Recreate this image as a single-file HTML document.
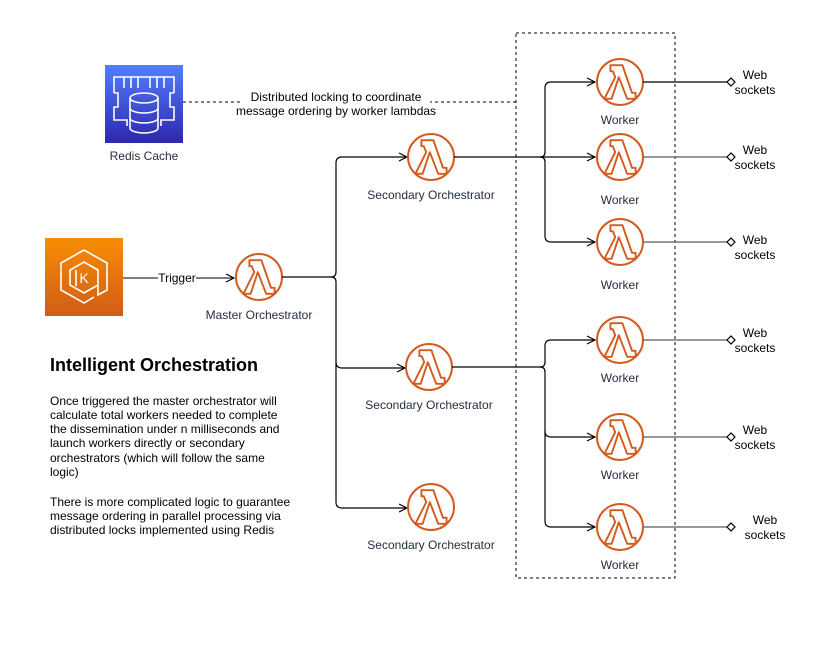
<!DOCTYPE html>
<html><head><meta charset="utf-8"><style>
html,body{margin:0;padding:0;background:#fff;}
svg{display:block;font-family:"Liberation Sans",Arial,sans-serif;}
.lbl{font-size:12px;fill:#232F3E;text-anchor:middle;}
.t{font-size:12px;fill:#000;}
</style></head><body>
<svg width="822" height="647" viewBox="0 0 822 647" xmlns="http://www.w3.org/2000/svg">
<defs>
<linearGradient id="rg" x1="0" y1="1" x2="0" y2="0"><stop offset="0" stop-color="#2E27AD"/><stop offset="1" stop-color="#527FFF"/></linearGradient>
<linearGradient id="kg" x1="0" y1="1" x2="0" y2="0"><stop offset="0" stop-color="#D05C17"/><stop offset="1" stop-color="#F78E04"/></linearGradient>
<g id="lam">
<circle r="23" fill="#fff" stroke="#D45B1F" stroke-width="2"/>
<path transform="scale(1.2)" d="M-8,-14 L2,-14 L10,9 L13,9 L13,14 L6,14 L-1,-4 L-7,14 L-13,14 L-4,-4 L-6,-9 L-8,-9 Z" fill="none" stroke="#D45B1F" stroke-width="1.6" stroke-linejoin="round"/>
</g>
<marker id="ar" markerWidth="10" markerHeight="10" refX="9" refY="5" orient="auto" markerUnits="userSpaceOnUse"><path d="M1,1 L9,5 L1,9" fill="none" stroke="#000" stroke-width="1.2"/></marker>
</defs>

<rect x="516" y="33" width="159" height="545" fill="none" stroke="#000" stroke-dasharray="3,3"/>

<!-- Redis -->
<rect x="105" y="65" width="78" height="78" fill="url(#rg)"/>
<g fill="none" stroke="#fff" stroke-width="1.6">
<path d="M114,93 V77 H174 V93 M114,93 H118 V107 H114 V120 H127 V126 M174,93 H170 V107 H174 V120 H161 V126"/>
<path d="M124,77 V88 M131,77 V88 M138,77 V88 M150,77 V88 M157,77 V88 M164,77 V88"/>
<ellipse cx="144" cy="98" rx="14" ry="5"/>
<path d="M130,98 V128 A14,5 0 0 0 158,128 V98 M130,108 A14,5 0 0 0 158,108 M130,118 A14,5 0 0 0 158,118"/>
</g>
<text class="lbl" x="144" y="160">Redis Cache</text>

<line x1="183" y1="102" x2="516" y2="102" stroke="#000" stroke-dasharray="3,3"/>
<rect x="240" y="89" width="190" height="30" fill="#fff"/>
<text class="t" x="336" y="101" text-anchor="middle" font-size="11">Distributed locking to coordinate</text>
<text class="t" x="336" y="115" text-anchor="middle" font-size="11">message ordering by worker lambdas</text>

<!-- Kubernetes -->
<rect x="45" y="238" width="78" height="78" fill="url(#kg)"/>
<g fill="none" stroke="#fff" stroke-width="1.6">
<path d="M84,250 L107,263 L107,290 L98,295 L98,285 L84,293 L70,285 L70,270 L84,262 L98,270 L98,285"/>
<path d="M84,250 L61,263 L61,290 L84,303 L94,297"/>
<path d="M76,270 V286"/>
</g>
<text x="84" y="283" fill="#fff" font-size="14" text-anchor="middle">K</text>

<line x1="123" y1="278" x2="234" y2="278" stroke="#000" marker-end="url(#ar)"/>
<rect x="158" y="271" width="38" height="14" fill="#fff"/>
<text class="t" x="177" y="282" text-anchor="middle" font-size="11">Trigger</text>

<use href="#lam" x="259" y="277"/>
<text class="lbl" x="259" y="319">Master Orchestrator</text>

<g fill="none" stroke="#000" stroke-width="1.2">
<path d="M282,277 H331 Q336,277 336,272 V163 Q336,157 342,157 H407" marker-end="url(#ar)"/>
<path d="M331,277 Q336,277 336,282 V362 Q336,368 342,368 H405" marker-end="url(#ar)"/>
<path d="M336,362 V502 Q336,508 342,508 H407" marker-end="url(#ar)"/>
</g>

<use href="#lam" x="431" y="157"/>
<text class="lbl" x="431" y="199">Secondary Orchestrator</text>
<use href="#lam" x="429" y="367"/>
<text class="lbl" x="429" y="409">Secondary Orchestrator</text>
<use href="#lam" x="431" y="507"/>
<text class="lbl" x="431" y="549">Secondary Orchestrator</text>

<g fill="none" stroke="#000" stroke-width="1.2">
<path d="M454,157 H540 Q545,157 545,152 V88 Q545,82 551,82 H595" marker-end="url(#ar)"/>
<path d="M540,157 H595" marker-end="url(#ar)"/>
<path d="M540,157 Q545,157 545,162 V236 Q545,242 551,242 H595" marker-end="url(#ar)"/>
<path d="M452,367 H540 Q545,367 545,362 V346 Q545,340 551,340 H595" marker-end="url(#ar)"/>
<path d="M540,367 Q545,367 545,372 V431 Q545,437 551,437 H595" marker-end="url(#ar)"/>
<path d="M545,431 V521 Q545,527 551,527 H595" marker-end="url(#ar)"/>
</g>

<g>
<use href="#lam" x="620" y="82"/><text class="lbl" x="620" y="124">Worker</text>
<use href="#lam" x="620" y="157"/><text class="lbl" x="620" y="204">Worker</text>
<use href="#lam" x="620" y="242"/><text class="lbl" x="620" y="289">Worker</text>
<use href="#lam" x="620" y="340"/><text class="lbl" x="620" y="382">Worker</text>
<use href="#lam" x="620" y="437"/><text class="lbl" x="620" y="479">Worker</text>
<use href="#lam" x="620" y="527"/><text class="lbl" x="620" y="569">Worker</text>
</g>

<g stroke-width="1.2">
<line x1="643" y1="82" x2="727" y2="82" stroke="#000"/>
<line x1="643" y1="157" x2="727" y2="157" stroke="#777" stroke-width="1.5"/>
<line x1="643" y1="242" x2="727" y2="242" stroke="#777" stroke-width="1.5"/>
<line x1="643" y1="340" x2="727" y2="340" stroke="#777" stroke-width="1.5"/>
<line x1="643" y1="437" x2="727" y2="437" stroke="#777" stroke-width="1.5"/>
<line x1="643" y1="527" x2="727" y2="527" stroke="#777" stroke-width="1.5"/>
<g fill="#fff" stroke="#000">
<path d="M727,82 L731,78 L735,82 L731,86 Z"/>
<path d="M727,157 L731,153 L735,157 L731,161 Z"/>
<path d="M727,242 L731,238 L735,242 L731,246 Z"/>
<path d="M727,340 L731,336 L735,340 L731,344 Z"/>
<path d="M727,437 L731,433 L735,437 L731,441 Z"/>
<path d="M727,527 L731,523 L735,527 L731,531 Z"/>
</g>
</g>
<g class="t" text-anchor="middle">
<text x="755" y="79">Web</text><text x="755" y="94">sockets</text>
<text x="755" y="154">Web</text><text x="755" y="169">sockets</text>
<text x="755" y="244">Web</text><text x="755" y="259">sockets</text>
<text x="755" y="337">Web</text><text x="755" y="352">sockets</text>
<text x="755" y="434">Web</text><text x="755" y="449">sockets</text>
<text x="765" y="524">Web</text><text x="765" y="539">sockets</text>
</g>

<text x="50" y="371" font-size="18" font-weight="bold" fill="#000">Intelligent Orchestration</text>
<g class="t">
<text x="50" y="405">Once triggered the master orchestrator will</text>
<text x="50" y="419">calculate total workers needed to complete</text>
<text x="50" y="433">the dissemination under n milliseconds and</text>
<text x="50" y="447">launch workers directly or secondary</text>
<text x="50" y="462">orchestrators (which will follow the same</text>
<text x="50" y="476">logic)</text>
<text x="50" y="506">There is more complicated logic to guarantee</text>
<text x="50" y="520">message ordering in parallel processing via</text>
<text x="50" y="534">distributed locks implemented using Redis</text>
</g>
</svg>
</body></html>
